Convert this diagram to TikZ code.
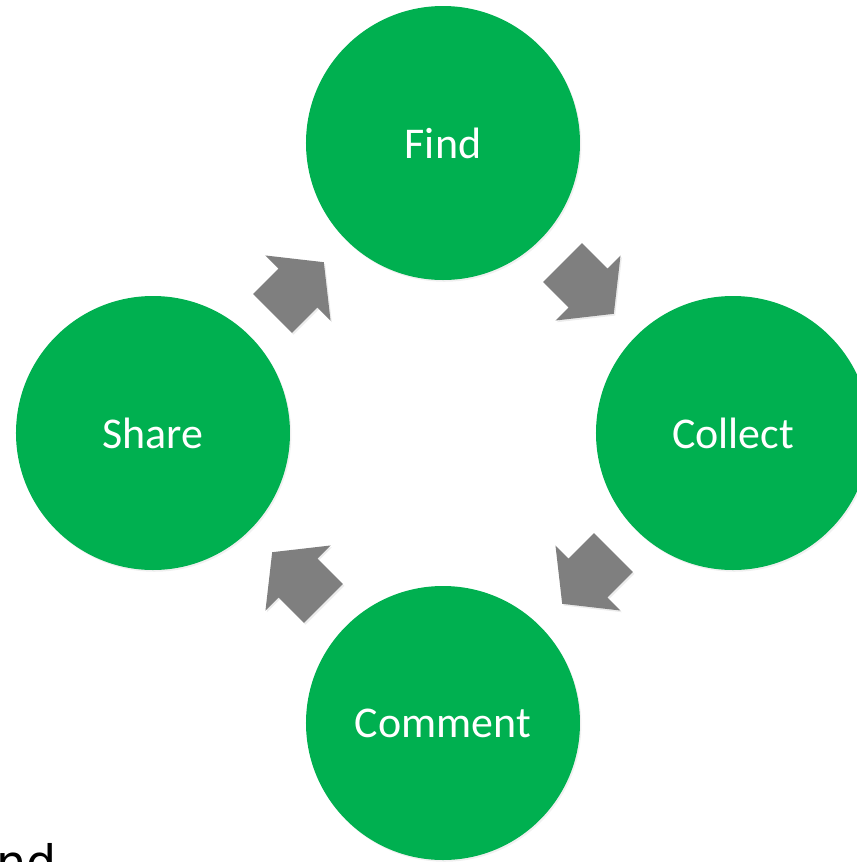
\documentclass[tikz,border=0pt]{standalone}
\usepackage{fontspec}
\setmainfont{Carlito}
\newfontfamily\notefont{DejaVu Sans}
\usetikzlibrary{calc,shadows}

\definecolor{cyclegreen}{HTML}{00B050}
\definecolor{cyclegray}{HTML}{7F7F7F}

\tikzset{
    cyclenode/.style={circle, fill=cyclegreen, minimum size=54.8mm, inner sep=0pt,
        text=white, font=\fontsize{25}{30}\selectfont,
        drop shadow={opacity=0.12, shadow xshift=0.8pt, shadow yshift=-1pt}},
    cyclearrow/.style={fill=cyclegray,
        drop shadow={opacity=0.15, shadow xshift=0.8pt, shadow yshift=-1pt}}
}

% block arrow halfway between two nodes, turned by #3 degrees
\newcommand{\blockarrow}[3]{%
    \path[cyclearrow, shift={($(#1)!0.5!(#2)$)}, rotate=#3]
        (-36,-27.5) -- (0,-27.5) -- (0,-46) -- (36.5,0) -- (0,46) -- (0,27.5) -- (-36,27.5) -- cycle;}

\begin{document}
\begin{tikzpicture}[x=0.2mm, y=0.2mm]
    \path[use as bounding box] (-443,-429) rectangle (414,433);
    \clip (-443,-429) rectangle (414,433);

    \node[cyclenode] (find) at (0,290) {Find};
    \node[cyclenode] (collect) at (290,0) {Collect};
    \node[cyclenode] (comment) at (0,-290) {Comment};
    \node[cyclenode] (share) at (-290,0) {Share};

    \blockarrow{share}{find}{45}
    \blockarrow{find}{collect}{-45}
    \blockarrow{collect}{comment}{-135}
    \blockarrow{comment}{share}{135}

    \node[anchor=base west, inner sep=0pt, font=\notefont\fontsize{27}{32}\selectfont] (note) at (-447,-446) {nd};
\end{tikzpicture}
\end{document}
